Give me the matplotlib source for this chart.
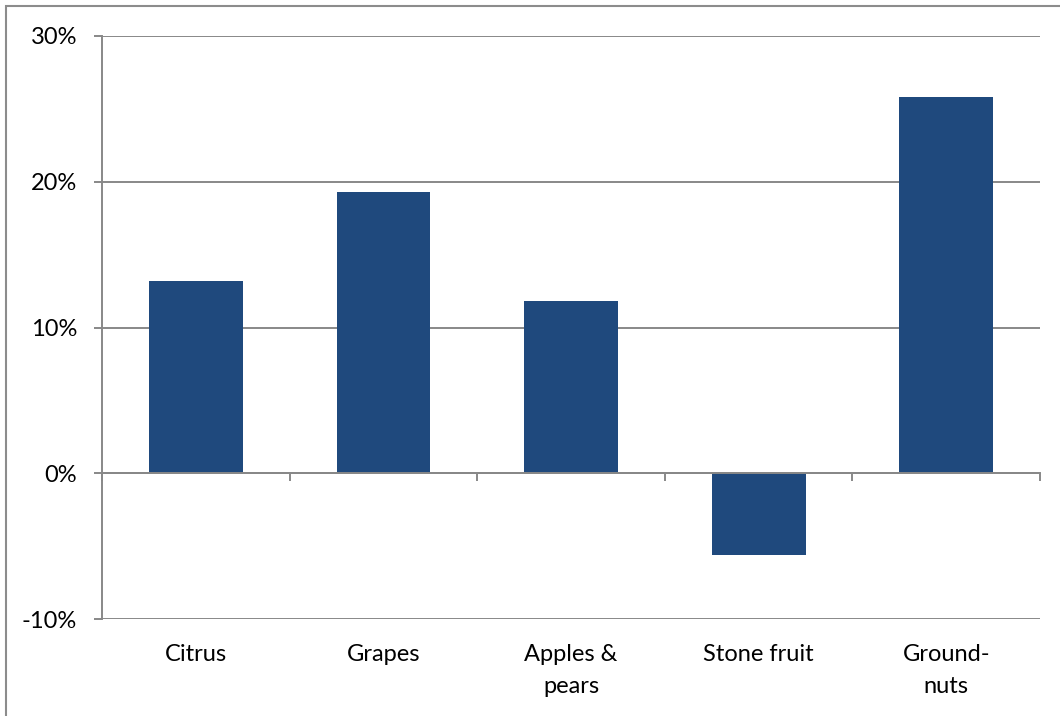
import matplotlib.pyplot as plt
from matplotlib.patches import Rectangle
from matplotlib.ticker import FuncFormatter, MultipleLocator
import matplotlib.transforms as mtransforms

# data (% change)
categories = ["Citrus", "Grapes", "Apples &\npears", "Stone fruit", "Ground-\nnuts"]
changes = [13.2, 19.3, 11.8, -5.6, 25.8]

bar_color = "#1F497D"
line_color = "#888888"

plt.rcParams['font.family'] = ['Lato', 'DejaVu Sans']

fig = plt.figure(figsize=(10.6, 7.16), dpi=100)
ax = fig.add_axes([102 / 1060, 1 - 619 / 716, 938 / 1060, 583 / 716])

x = list(range(len(categories)))
ax.bar(x, changes, width=0.5, color=bar_color, zorder=3)

ax.set_xlim(-0.5, len(categories) - 0.5)
ax.set_ylim(-10, 30)

# y axis like Excel: gridlines, ticks outwards on the left
ax.yaxis.set_major_locator(MultipleLocator(10))
ax.yaxis.set_major_formatter(FuncFormatter(lambda v, p: f"{v:.0f}%"))
ax.grid(axis='y', color=line_color, linewidth=1.4, zorder=0)
ax.tick_params(axis='y', length=6, width=1.4, color=line_color, pad=12,
               labelsize=17)

# x axis line sits at 0 with ticks between categories
ax.spines['bottom'].set_position(('data', 0))
ax.spines['bottom'].set_color(line_color)
ax.spines['bottom'].set_linewidth(1.4)
ax.spines['bottom'].set_zorder(4)
ax.set_xticks(x)
ax.set_xticklabels([])
ax.tick_params(axis='x', which='major', length=0)
ax.set_xticks([i + 0.5 for i in range(-1, len(categories))], minor=True)
ax.tick_params(axis='x', which='minor', length=6, width=1.4, color=line_color)

for side in ('top', 'right'):
    ax.spines[side].set_visible(False)
ax.spines['left'].set_color(line_color)
ax.spines['left'].set_linewidth(1.4)

# category labels sit below the plot area
trans = mtransforms.blended_transform_factory(ax.transData, ax.transAxes)
for xi, lab in zip(x, categories):
    ax.text(xi, -0.043, lab, transform=trans, ha='center', va='top',
            fontsize=17, linespacing=1.65)

# chart border
fig.patches.append(Rectangle((6 / 1060, -0.01), 1.1, 1 - 6 / 716 + 0.01,
                             transform=fig.transFigure, fill=False,
                             edgecolor='#8c8c8c', linewidth=1.5))

fig.savefig("out.png", dpi=100)
